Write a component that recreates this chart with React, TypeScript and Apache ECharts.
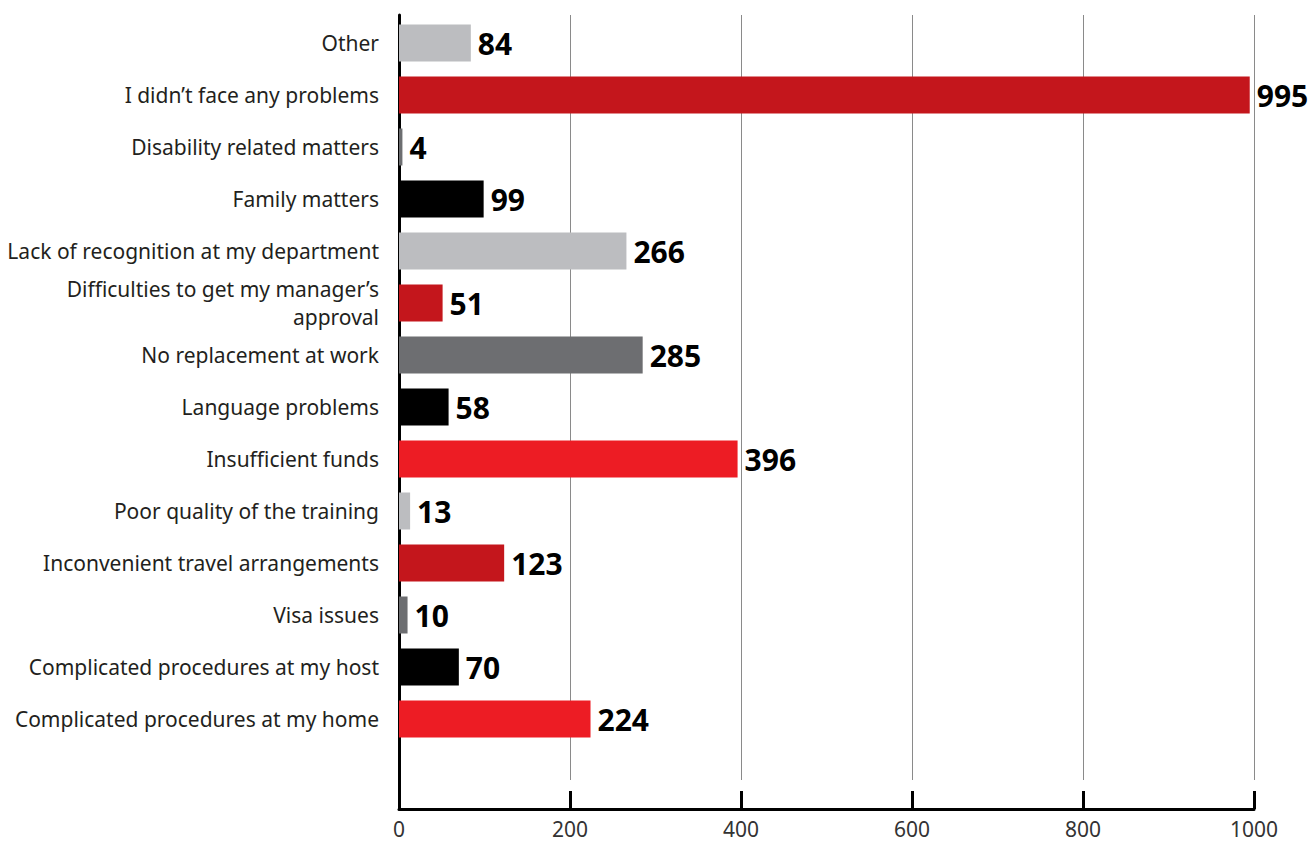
import React, { useEffect, useRef } from "react";
import * as echarts from "echarts";

const categories = [
  "Other",
  "I didn\u2019t face any problems",
  "Disability related matters",
  "Family matters",
  "Lack of recognition at my department",
  "Difficulties to get my manager\u2019s\napproval",
  "No replacement at work",
  "Language problems",
  "Insufficient funds",
  "Poor quality of the training",
  "Inconvenient travel arrangements",
  "Visa issues",
  "Complicated procedures at my host",
  "Complicated procedures at my home",
];

const values = [84, 995, 4, 99, 266, 51, 285, 58, 396, 13, 123, 10, 70, 224];

const LIGHT_GRAY = "#bcbdc0";
const DARK_RED = "#c4161c";
const DARK_GRAY = "#6d6e71";
const BLACK = "#000000";
const BRIGHT_RED = "#ed1c24";

const barColors = [
  LIGHT_GRAY, DARK_RED, DARK_GRAY, BLACK, LIGHT_GRAY, DARK_RED, DARK_GRAY,
  BLACK, BRIGHT_RED, LIGHT_GRAY, DARK_RED, DARK_GRAY, BLACK, BRIGHT_RED,
];

const xTicks = { min: 0, max: 1000, interval: 200 };

export default function App() {
  const ref = useRef<HTMLDivElement>(null);
  useEffect(() => {
    if (!ref.current) return;
    const chart = echarts.init(ref.current, null, { renderer: "svg" });
    const left = 399;
    const right = 58;
    chart.setOption({
      animation: false,
      backgroundColor: "#ffffff",
      grid: [
        { left, right, top: 17, height: 728 },
        { left, right, top: 15, height: 765 },
        { left, right, top: 15, height: 794 },
      ],
      xAxis: [
        {
          gridIndex: 0, type: "value", ...xTicks,
          axisLine: { show: false }, axisTick: { show: false },
          axisLabel: { show: false }, splitLine: { show: false },
        },
        {
          gridIndex: 1, type: "value", ...xTicks,
          axisLine: { show: false }, axisTick: { show: false },
          axisLabel: { show: false },
          splitLine: { show: true, lineStyle: { color: "#8a8a8a", width: 1 } },
        },
        {
          gridIndex: 2, type: "value", ...xTicks,
          axisLine: { show: true, lineStyle: { color: "#000", width: 3 } },
          axisTick: { show: true, inside: true, length: 18, lineStyle: { color: "#000", width: 3 } },
          axisLabel: {
            show: true, margin: 9, color: "#333",
            fontFamily: "Noto Sans", fontSize: 21, lineHeight: 22,
            formatter: (v: number) => String(v),
          },
          splitLine: { show: false },
        },
      ],
      yAxis: [
        {
          gridIndex: 0, type: "category", inverse: true, data: categories,
          axisLine: { show: false }, axisTick: { show: false },
          axisLabel: {
            margin: 20, color: "#231f20", fontFamily: "Noto Sans",
            fontSize: 21, lineHeight: 28, align: "right",
          },
        },
        {
          gridIndex: 1, type: "value", show: false,
        },
        {
          gridIndex: 2, type: "value",
          axisLine: { show: true, onZero: false, lineStyle: { color: "#000", width: 3 } },
          axisTick: { show: false }, axisLabel: { show: false },
          splitLine: { show: false },
        },
      ],
      series: [
        {
          type: "bar",
          xAxisIndex: 0, yAxisIndex: 0,
          barWidth: 37,
          data: values.map((v, i) => ({ value: v, itemStyle: { color: barColors[i] } })),
          label: {
            show: true, position: "right", distance: 7,
            color: "#000", fontFamily: "Noto Sans", fontWeight: "bold", fontSize: 30,
          },
        },
      ],
    });
    return () => chart.dispose();
  }, []);
  return (
    <div
      ref={ref}
      style={{ position: "fixed", left: 0, top: 0, width: 1312, height: 844 }}
    />
  );
}
